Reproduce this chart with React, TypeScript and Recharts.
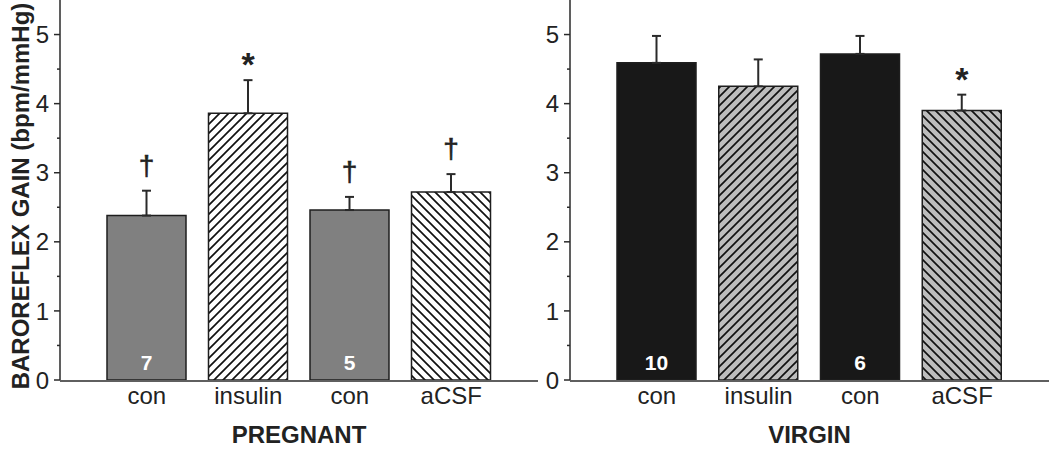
import { BarChart, Bar, XAxis, YAxis, ErrorBar, Cell, LabelList } from 'recharts'

const categories = ['con', 'insulin', 'con', 'aCSF']

const pregnantMeans = [2.38, 3.86, 2.46, 2.72]
const pregnantErrors = [0.36, 0.48, 0.19, 0.26]
const pregnantCounts = ['7', '', '5', '']
const pregnantMarks = ['†', '*', '†', '†']

const virginMeans = [4.59, 4.25, 4.72, 3.9]
const virginErrors = [0.39, 0.39, 0.26, 0.23]
const virginCounts = ['10', '', '6', '']
const virginMarks = ['', '', '', '*']

const yTicks = [0, 0.5, 1, 1.5, 2, 2.5, 3, 3.5, 4, 4.5, 5]
const groupTicks = [0, 2, 4]

const AXIS = '#2a2a2a'
const TEXT = '#222'

const pregnantFills = ['#808080', 'url(#hatchFwdWhite)', '#808080', 'url(#hatchBackWhite)']
const virginFills = ['#181818', 'url(#hatchFwdGray)', '#181818', 'url(#hatchBackGray)']

function YTick(props: any) {
  const { x, y, payload } = props
  const v = payload.value
  const major = Number.isInteger(v)
  return (
    <g>
      <line x1={x - (major ? 6 : 3)} x2={x} y1={y} y2={y} stroke={AXIS} strokeWidth={1.5} />
      {major && (
        <text x={x - 11} y={y} dy="0.36em" textAnchor="end" fontSize={24} fill={TEXT}>
          {v}
        </text>
      )}
    </g>
  )
}

function CatTick(props: any) {
  const { x, y, payload } = props
  return (
    <text x={x} y={y + 24} textAnchor="middle" fontSize={24} fill={TEXT}>
      {payload.value}
    </text>
  )
}

function boxOf(props: any) {
  const vb = props.viewBox && props.viewBox.width != null ? props.viewBox : props
  return { x: Number(vb.x), y: Number(vb.y), width: Number(vb.width), height: Number(vb.height) }
}

interface PanelProps {
  title: string
  means: number[]
  errors: number[]
  counts: string[]
  marks: string[]
  fills: string[]
  showYLabel?: boolean
  marginRight: number
}

function Panel({ title, means, errors, counts, marks, fills, showYLabel, marginRight }: PanelProps) {
  const data = categories.map((c, i) => ({ cat: c, mean: means[i], err: errors[i] }))

  const renderMark = (props: any) => {
    const i = props.index
    const m = marks[i]
    if (!m) return null
    const { x, y, width, height } = boxOf(props)
    const perUnit = height / means[i]
    const top = y - errors[i] * perUnit
    const cx = x + width / 2
    if (m === '*') {
      return (
        <text x={cx} y={top - 4} textAnchor="middle" fontSize={34} fontWeight="bold" fill={TEXT}>
          *
        </text>
      )
    }
    return (
      <text
        x={cx}
        y={top - 16}
        textAnchor="middle"
        fontSize={28}
        fill={TEXT}
        stroke={TEXT}
        strokeWidth={0.6}
      >
        {m}
      </text>
    )
  }

  const renderCount = (props: any) => {
    const n = counts[props.index]
    if (!n) return null
    const { x, y, width, height } = boxOf(props)
    return (
      <text x={x + width / 2} y={y + height - 10} textAnchor="middle" fontSize={21} fontWeight="bold" fill="#fff">
        {n}
      </text>
    )
  }

  return (
    <BarChart width={540} height={452} data={data} margin={{ top: 0, right: marginRight, bottom: 70, left: 0 }}>
      <XAxis
        xAxisId="sep"
        type="number"
        domain={[0, 4]}
        ticks={groupTicks}
        allowDataOverflow
        height={1}
        tick={false}
        tickSize={5}
        axisLine={{ stroke: AXIS, strokeWidth: 1.5 }}
        tickLine={{ stroke: AXIS, strokeWidth: 1.5 }}
        label={(p: any) => {
          const vb = boxOf(p)
          return (
            <text x={vb.x + vb.width / 2} y={vb.y + 62} textAnchor="middle" fontSize={24} fontWeight="bold" fill={TEXT}>
              {title}
            </text>
          )
        }}
      />
      <XAxis
        xAxisId="cat"
        dataKey="cat"
        height={1}
        padding={{ left: 36, right: 36 }}
        axisLine={false}
        tickLine={false}
        tickSize={0}
        tickMargin={0}
        interval={0}
        tick={<CatTick />}
      />
      <YAxis
        width={60}
        domain={[0, 5.5]}
        ticks={yTicks}
        interval={0}
        allowDataOverflow
        tickSize={0}
        tickMargin={0}
        tickLine={false}
        axisLine={{ stroke: AXIS, strokeWidth: 1.5 }}
        tick={<YTick />}
        label={
          showYLabel
            ? () => (
                <text
                  x={29}
                  y={196}
                  transform="rotate(-90 29 196)"
                  textAnchor="middle"
                  fontSize={24}
                  fontWeight="bold"
                  fill={TEXT}
                >
                  BAROREFLEX GAIN (bpm/mmHg)
                </text>
              )
            : undefined
        }
      />
      <Bar
        xAxisId="cat"
        dataKey="mean"
        barSize={79}
        stroke="#1e1e1e"
        strokeWidth={1.5}
        isAnimationActive={false}
      >
        {data.map((d, i) => (
          <Cell key={i} fill={fills[i]} />
        ))}
        <ErrorBar dataKey={(d: any) => [0, d.err]} width={4.5} stroke="#2a2a2a" strokeWidth={2} direction="y" />
        <LabelList dataKey="mean" content={renderMark} />
        <LabelList dataKey="mean" content={renderCount} />
      </Bar>
    </BarChart>
  )
}

export default function App() {
  return (
    <div
      style={{
        position: 'absolute',
        left: 0,
        top: 0,
        width: 1050,
        height: 452,
        background: '#fff',
        fontFamily: '"Liberation Sans", Arial, sans-serif',
        overflow: 'hidden',
      }}
    >
      <svg width={0} height={0} style={{ position: 'absolute' }}>
        <defs>
          <pattern id="hatchFwdWhite" patternUnits="userSpaceOnUse" width={9} height={9}>
            <rect width={9} height={9} fill="#fff" />
            <path d="M-2,2 L2,-2 M0,9 L9,0 M7,11 L11,7" stroke="#111" strokeWidth={1.7} />
          </pattern>
          <pattern id="hatchBackWhite" patternUnits="userSpaceOnUse" width={9} height={9}>
            <rect width={9} height={9} fill="#fff" />
            <path d="M-2,7 L2,11 M0,0 L9,9 M7,-2 L11,2" stroke="#111" strokeWidth={1.7} />
          </pattern>
          <pattern id="hatchFwdGray" patternUnits="userSpaceOnUse" width={9} height={9}>
            <rect width={9} height={9} fill="#bdbdbd" />
            <path d="M-2,2 L2,-2 M0,9 L9,0 M7,11 L11,7" stroke="#111" strokeWidth={1.7} />
          </pattern>
          <pattern id="hatchBackGray" patternUnits="userSpaceOnUse" width={9} height={9}>
            <rect width={9} height={9} fill="#bdbdbd" />
            <path d="M-2,7 L2,11 M0,0 L9,9 M7,-2 L11,2" stroke="#111" strokeWidth={1.7} />
          </pattern>
        </defs>
      </svg>
      <div style={{ position: 'absolute', left: 0, top: 0 }}>
        <Panel
          title="PREGNANT"
          means={pregnantMeans}
          errors={pregnantErrors}
          counts={pregnantCounts}
          marks={pregnantMarks}
          fills={pregnantFills}
          showYLabel
          marginRight={2}
        />
      </div>
      <div style={{ position: 'absolute', left: 510, top: 0 }}>
        <Panel
          title="VIRGIN"
          means={virginMeans}
          errors={virginErrors}
          counts={virginCounts}
          marks={virginMarks}
          fills={virginFills}
          marginRight={1}
        />
      </div>
    </div>
  )
}
